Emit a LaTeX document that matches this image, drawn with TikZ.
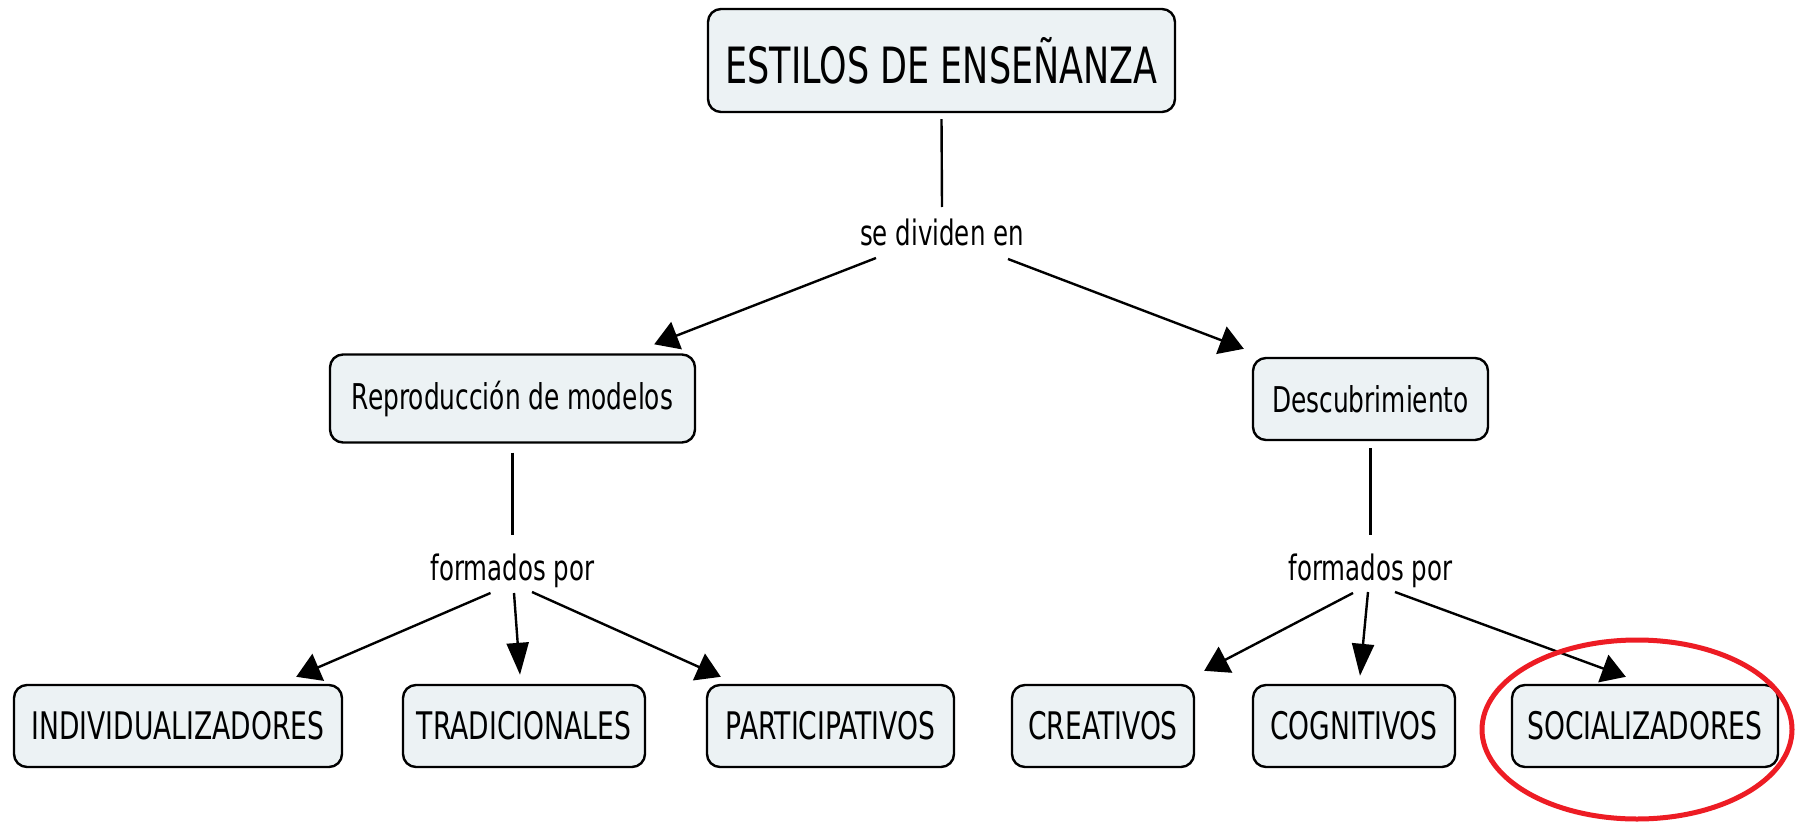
\documentclass[tikz,border=0pt]{standalone}
\usepackage{fontspec}
\setmainfont{DejaVu Sans}[FakeStretch=0.70]
\usetikzlibrary{arrows.meta,calc}
\definecolor{boxfill}{RGB}{236,242,244}
\definecolor{markred}{RGB}{237,28,36}
\tikzset{
  concept/.style={draw=black, line width=2.4pt, fill=boxfill, rounded corners=13pt, inner sep=0pt, align=center, text=black},
  bigtext/.style={font=\fontsize{50}{60}\selectfont},
  midtext/.style={font=\fontsize{35.5}{42}\selectfont},
  lowtext/.style={font=\fontsize{38}{45}\selectfont},
  linklbl/.style={inner sep=0pt, anchor=base, font=\fontsize{35}{42}\selectfont},
  conn/.style={line width=2.4pt, draw=black},
  harrow/.style={conn, -{Triangle[length=24pt,width=29pt]}},
  varrow/.style={conn, -{Triangle[length=32pt,width=22pt]}},
  lowbox/.style={concept, lowtext, minimum height=82pt},
}
\begin{document}
\begin{tikzpicture}[x=1pt,y=-1pt]
\useasboundingbox (0,0) rectangle (1796,824);
\fill[white] (0,0) rectangle (1796,824);

% concept nodes
\node[concept, bigtext, minimum width=467pt, minimum height=103pt] (top) at (941.5,60.5) {ESTILOS DE ENSEÑANZA};
\node[concept, midtext, minimum width=365pt, minimum height=88pt] (repro) at (512.5,398.5) {Reproducción de modelos};
\node[concept, midtext, minimum width=235pt, minimum height=82pt] (desc) at (1370.5,399) {Descubrimiento};

\node[lowbox, minimum width=328pt] (indiv) at (178,726) {INDIVIDUALIZADORES};
\node[lowbox, minimum width=242pt] (trad) at (524,726) {TRADICIONALES};
\node[lowbox, minimum width=247pt] (part) at (830.5,726) {PARTICIPATIVOS};
\node[lowbox, minimum width=182pt] (crea) at (1103,726) {CREATIVOS};
\node[lowbox, minimum width=202pt] (cogn) at (1354,726) {COGNITIVOS};
\node[lowbox, minimum width=266pt] (soci) at (1645,726) {SOCIALIZADORES};

% linking phrases
\node[linklbl] (sdiv) at (942,245) {se dividen en};
\node[linklbl] (fp1) at (512.5,580) {formados por};
\node[linklbl] (fp2) at (1370.5,580) {formados por};

% connectors
\draw[conn] ($(top.south)+(0,6)$) -- ($(sdiv.base)+(0,-38)$);
\draw[harrow] ($(sdiv.base)+(-66,13)$) -- ($(repro.north east)+(-42,-9)$);
\draw[harrow] ($(sdiv.base)+(66,14)$) -- ($(desc.north west)+(-8,-8)$);

\draw[conn] ($(repro.south)+(0,9)$) -- ($(fp1.base)+(0,-45)$);
\draw[conn] ($(desc.south)+(0,7)$) -- ($(fp2.base)+(0,-45)$);

\draw[harrow] ($(fp1.base)+(-22,13)$) -- ($(indiv.north east)+(-47,-7)$);
\draw[varrow] ($(fp1.base)+(1.5,13)$) -- ($(trad.north)+(-4,-9)$);
\draw[harrow] ($(fp1.base)+(19.5,12)$) -- ($(part.north west)+(15,-7)$);

\draw[harrow] ($(fp2.base)+(-17.5,13)$) -- ($(crea.north east)+(9,-13)$);
\draw[varrow] ($(fp2.base)+(-2.5,12)$) -- ($(cogn.north)+(6,-8)$);
\draw[harrow] ($(fp2.base)+(24.5,12)$) -- ($(soci.north west)+(115,-7)$);

% red highlight
\draw[markred, line width=5pt] (1637,729.5) ellipse [x radius=155, y radius=89.5];
\end{tikzpicture}
\end{document}
